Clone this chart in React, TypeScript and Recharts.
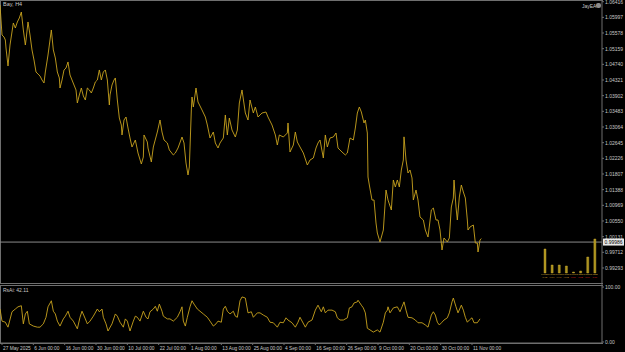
import React from "react";
import { LineChart, Line, XAxis, YAxis, ReferenceLine, BarChart, Bar, Cell } from "recharts";

// H4 bar number of each sampled close
const barIdx = [
  0, 3, 6, 8, 9, 12, 15, 20, 23, 26,
  29, 32, 35, 38, 39, 42, 45, 48, 51, 54,
  57, 60, 63, 66, 68, 72, 77, 80, 83, 86,
  89, 90, 93, 96, 99, 102, 105, 108, 111, 114,
  116, 119, 122, 125, 128, 131, 134, 137, 140, 143,
  146, 149, 152, 155, 158, 161, 164, 165, 168, 171,
  173, 176, 179, 182, 183, 186, 189, 192, 195, 198,
  203, 207, 212, 215, 216, 221, 222, 227, 230, 236,
  240, 243, 246, 251, 254, 260, 263, 267, 273, 276,
  279, 282, 284, 287, 288, 290, 294, 297, 303, 308,
  311, 315, 320, 323, 327, 330, 335, 338, 341, 344,
  348, 353, 356, 359, 363, 368, 372, 375, 380, 383,
  387, 393, 399, 402, 408, 413, 416, 419, 425, 431,
  432, 435, 440, 443, 446, 450, 455, 461, 465, 470,
  474, 477, 480, 485, 488, 491, 495, 500, 504, 507,
  513, 518, 521, 525, 530, 533, 536, 539, 542, 546,
  548, 551, 552, 554, 558, 561, 564, 566, 570, 575,
  576, 579, 582, 587, 590, 593, 596, 599, 602, 605,
  606, 609, 612, 615, 618, 620, 624, 627, 630, 635,
  638, 642, 647, 650, 654, 657, 660, 663, 666, 671,
  674, 677, 680, 681, 684, 686, 689, 692, 695, 698,
  701, 702, 705, 710, 713, 716, 717, 720, 722,
];

const closes = [
  1.06327, 1.05525, 1.05471, 1.05391, 1.05177, 1.04696, 1.05257, 1.05846, 1.05712, 1.05873,
  1.0598, 1.0614, 1.05659, 1.05257, 1.05391, 1.05873, 1.05525, 1.05124, 1.04856, 1.04535,
  1.04482, 1.04428, 1.04321, 1.04241, 1.04535, 1.0499, 1.05659, 1.05124, 1.0491, 1.04535,
  1.04375, 1.04107, 1.04321, 1.04589, 1.04642, 1.04803, 1.04455, 1.04321, 1.04187, 1.04054,
  1.03706, 1.0392, 1.04107, 1.03893, 1.03786, 1.04107, 1.04054, 1.03973, 1.04107, 1.04268,
  1.04321, 1.04589, 1.04321, 1.04535, 1.04589, 1.04321, 1.03652, 1.0392, 1.04187, 1.04321,
  1.04375, 1.03786, 1.03304, 1.03117, 1.0285, 1.03251, 1.03331, 1.03037, 1.0277, 1.02529,
  1.02716, 1.02368, 1.02074, 1.02261, 1.0285, 1.02663, 1.02502, 1.02128, 1.02529, 1.0293,
  1.03251, 1.0293, 1.02716, 1.02636, 1.02449, 1.02315, 1.02368, 1.02502, 1.02796, 1.02636,
  1.02101, 1.0178, 1.01994, 1.03519, 1.03866, 1.03599, 1.04107, 1.03733, 1.03519, 1.03331,
  1.03117, 1.0277, 1.0293, 1.02636, 1.02502, 1.02636, 1.0277, 1.03385, 1.0285, 1.03304,
  1.02983, 1.02796, 1.02983, 1.03706, 1.04054, 1.03438, 1.03251, 1.03786, 1.03438, 1.03599,
  1.03331, 1.03438, 1.03465, 1.03331, 1.03117, 1.0285, 1.02582, 1.0285, 1.02796, 1.02903,
  1.03171, 1.02395, 1.02582, 1.0293, 1.02663, 1.02529, 1.02368, 1.02047, 1.02181, 1.02235,
  1.02502, 1.02636, 1.02716, 1.02235, 1.0285, 1.02529, 1.0277, 1.02796, 1.02903, 1.02502,
  1.02395, 1.02315, 1.02368, 1.0277, 1.02716, 1.03037, 1.03438, 1.03599, 1.03465, 1.03171,
  1.03251, 1.02903, 1.01726, 1.01512, 1.01111, 1.01111, 1.00496, 1.00228, 0.99988, 1.00308,
  1.00576, 1.01378, 1.01111, 1.00844, 1.01646, 1.01459, 1.01646, 1.01459, 1.01914, 1.02181,
  1.028, 1.02181, 1.01833, 1.01914, 1.017, 1.01111, 1.01378, 1.01111, 1.00656, 1.00576,
  1.00308, 1.00121, 1.00844, 1.00897, 1.00576, 1.00576, 1.00308, 0.99774, 1.00095, 0.99988,
  1.00095, 1.00924, 1.01164, 1.01646, 1.00924, 1.00576, 1.01191, 1.01512, 1.01325, 1.01164,
  1.00576, 1.00308, 1.00389, 1.00442, 0.99961, 0.99961, 0.9972, 1.00041, 1.0008,
];

// oscillator sub-window
const oscBars = [
  0, 3, 8, 12, 18, 23, 27, 32, 35, 38,
  41, 44, 50, 56, 60, 65, 69, 72, 77, 80,
  83, 86, 90, 95, 98, 102, 105, 110, 116, 120,
  123, 128, 131, 135, 140, 146, 149, 153, 155, 159,
  162, 168, 173, 176, 180, 185, 188, 191, 195, 200,
  203, 206, 210, 215, 219, 222, 225, 230, 233, 236,
  239, 243, 245, 251, 255, 260, 266, 270, 273, 275,
  278, 281, 285, 288, 291, 296, 300, 305, 311, 315,
  320, 324, 327, 332, 335, 338, 341, 345, 350, 353,
  356, 360, 363, 368, 372, 377, 380, 386, 390, 395,
  401, 405, 410, 416, 420, 425, 429, 432, 438, 443,
  447, 450, 458, 462, 468, 473, 477, 482, 485, 488,
  492, 498, 503, 506, 510, 515, 521, 524, 528, 531,
  536, 537, 542, 545, 548, 551, 555, 560, 566, 570,
  575, 578, 581, 582, 585, 590, 596, 600, 603, 606,
  609, 612, 618, 623, 627, 633, 638, 642, 647, 650,
  653, 656, 659, 663, 666, 671, 674, 678, 680, 684,
  687, 692, 695, 698, 701, 704, 708, 711, 716, 720,
];

const oscValues = [
  60, 38, 36, 27, 55, 60, 64, 66, 33, 51,
  56, 33, 29, 27, 27, 33, 45, 64, 75, 56,
  51, 38, 29, 42, 47, 56, 45, 38, 24, 45,
  56, 42, 33, 38, 47, 60, 55, 60, 45, 33,
  20, 33, 51, 47, 36, 27, 42, 38, 20, 38,
  47, 45, 38, 56, 45, 42, 55, 60, 65, 56,
  69, 56, 47, 42, 42, 38, 45, 55, 64, 38,
  29, 45, 64, 75, 69, 60, 56, 51, 45, 38,
  29, 33, 38, 36, 60, 65, 56, 51, 56, 47,
  45, 75, 82, 80, 53, 55, 45, 53, 53, 49,
  45, 36, 35, 27, 36, 35, 44, 40, 35, 27,
  36, 45, 27, 36, 40, 58, 67, 55, 64, 53,
  58, 58, 55, 44, 40, 40, 44, 62, 64, 71,
  73, 76, 67, 62, 53, 25, 22, 18, 22, 18,
  36, 53, 58, 64, 53, 62, 64, 55, 64, 73,
  58, 45, 44, 40, 35, 35, 31, 27, 49, 55,
  49, 36, 31, 36, 40, 44, 53, 73, 80, 64,
  53, 67, 58, 45, 36, 40, 44, 35, 35, 42.11,
];

const priceTicks = [
  1.06416, 1.05997, 1.05578, 1.05159, 1.0474, 1.04321, 1.03902, 1.03483, 1.03064,
  1.02645, 1.02226, 1.01807, 1.01388, 1.00969, 1.0055, 1.00131, 0.99712, 0.99293,
];
const dateTicks = [3, 50, 97, 144, 191, 238, 285, 332, 379, 426, 473, 520, 567, 614, 661, 708];
const dateLabels = [
  "27 May 2025", "6 Jun 00:00", "16 Jun 00:00", "30 Jun 00:00", "10 Jul 00:00", "22 Jul 00:00",
  "1 Aug 00:00", "13 Aug 00:00", "25 Aug 00:00", "4 Sep 00:00", "16 Sep 00:00", "26 Sep 00:00",
  "9 Oct 00:00", "20 Oct 00:00", "30 Oct 00:00", "11 Nov 00:00",
];
const bidPrice = 0.99986;
const oscLast = 42.11;

// small level histogram in the corner
const levelNames = ["0.9950", "0.9960", "0.9970", "0.9980", "0.9990", "1.0000", "1.0010", "1.0020"];
const levelValues = [24, 8, 8, 7, 1, 2, 16, 34];
const levelNotes = ["+0.05", "+0.04", "+0.04", "+0.03", "-0.01", "-0.02", "-0.04", "-0.06"];

const priceData = barIdx.map((b, i) => ({ bar: b, close: closes[i] }));
const oscData = oscBars.map((b, i) => ({ bar: b, value: oscValues[i] }));
const levelData = levelNames.map((n, i) => ({ name: n, value: levelValues[i], note: levelNotes[i] }));

const FONT = "'Liberation Sans', Arial, sans-serif";
const GOLD = "#c9a41e";
const FRAME = "#6f6f6f";
const LABEL = "#c8c8c8";

const PriceTick = (props: any) => {
  const { x, y, payload } = props;
  return (
    <text x={x} y={y + 2.1} fill={LABEL} fontSize={5} fontFamily={FONT} textAnchor="start">
      {payload.value.toFixed(payload.value > 50 || payload.value === 0 ? 2 : 5)}
    </text>
  );
};

const DateTick = (props: any) => {
  const { x, y, payload } = props;
  const i = dateTicks.indexOf(payload.value);
  return (
    <text x={x + 1} y={y + 4.5} fill={LABEL} fontSize={4.8} fontFamily={FONT} textAnchor="start">
      {dateLabels[i]}
    </text>
  );
};

const BidLabel = (props: any) => {
  const vb = props.viewBox || {};
  const x = vb.x + vb.width + 1;
  return (
    <g>
      <rect x={x} y={vb.y - 3.5} width={21} height={7} fill="#e8e8e8" />
      <text x={x + 1.5} y={vb.y + 1.8} fill="#000" fontSize={5} fontFamily={FONT}>
        {bidPrice.toFixed(5)}
      </text>
    </g>
  );
};

const LevelTick = (props: any) => {
  const { x, y, index } = props;
  const d = levelData[index];
  return (
    <g>
      <text x={x} y={y + 1.8} fill="#e0c040" fontSize={2.2} fontFamily={FONT} textAnchor="middle">
        {d.name}
      </text>
      <text x={x} y={y + 4.6} fill={index < 4 ? "#d9a030" : "#e02020"} fontSize={2.2} fontFamily={FONT} textAnchor="middle">
        {d.note}
      </text>
    </g>
  );
};

export default function App() {
  return (
    <div
      style={{
        position: "absolute",
        left: 0,
        top: 0,
        width: 625,
        height: 352,
        background: "#000",
        overflow: "hidden",
        fontFamily: FONT,
      }}
    >
      {/* panel frames */}
      <div style={{ position: "absolute", left: 0, top: 0, width: 602, height: 282, border: `1px solid ${FRAME}`, borderRight: "none" }} />
      <div style={{ position: "absolute", left: 0, top: 285, width: 602, height: 57, border: `1px solid ${FRAME}`, borderRight: "none" }} />

      <div style={{ position: "absolute", left: 0, top: 0 }}>
        <LineChart width={625} height={283} data={priceData} margin={{ top: 0, right: 0, bottom: 0, left: 0 }}>
          <XAxis type="number" dataKey="bar" domain={[0, 903]} hide />
          <YAxis
            orientation="right"
            width={23}
            type="number"
            domain={[0.98891, 1.06461]}
            ticks={priceTicks}
            interval={0}
            allowDataOverflow
            tick={<PriceTick />}
            tickSize={2}
            tickMargin={1}
            tickLine={{ stroke: FRAME }}
            axisLine={{ stroke: FRAME }}
          />
          <ReferenceLine y={bidPrice} stroke="#8a8a8a" strokeWidth={1} label={<BidLabel />} />
          <Line
            type="linear"
            dataKey="close"
            stroke={GOLD}
            strokeWidth={0.9}
            dot={false}
            activeDot={false}
            isAnimationActive={false}
          />
        </LineChart>
      </div>

      <div style={{ position: "absolute", left: 0, top: 284 }}>
        <LineChart width={625} height={68} data={oscData} margin={{ top: 0, right: 0, bottom: 0, left: 0 }}>
          <XAxis
            type="number"
            dataKey="bar"
            domain={[0, 903]}
            ticks={dateTicks}
            interval={0}
            height={9}
            tick={<DateTick />}
            tickSize={2}
            tickMargin={0}
            tickLine={{ stroke: FRAME }}
            axisLine={{ stroke: FRAME }}
          />
          <YAxis
            orientation="right"
            width={23}
            type="number"
            domain={[-1.8, 105.5]}
            ticks={[0, 100]}
            interval={0}
            allowDataOverflow
            tick={<PriceTick />}
            tickSize={2}
            tickMargin={1}
            tickLine={{ stroke: FRAME }}
            axisLine={{ stroke: FRAME }}
          />
          <Line
            type="linear"
            dataKey="value"
            stroke={GOLD}
            strokeWidth={0.9}
            dot={false}
            activeDot={false}
            isAnimationActive={false}
          />
        </LineChart>
      </div>

      <div style={{ position: "absolute", left: 541, top: 236 }}>
        <BarChart width={57} height={45} data={levelData} margin={{ top: 0, right: 0, bottom: 0, left: 0 }}>
          <XAxis dataKey="name" height={8} tick={<LevelTick />} tickSize={0} tickMargin={0} tickLine={false} axisLine={false} interval={0} />
          <YAxis hide domain={[0, 37]} />
          <Bar dataKey="value" barSize={2} isAnimationActive={false}>
            {levelData.map((d) => (
              <Cell key={d.name} fill="#a8901e" stroke="#d8b832" strokeWidth={0.4} />
            ))}
          </Bar>
        </BarChart>
      </div>

      {/* window captions */}
      <div style={{ position: "absolute", left: 3, top: 1, fontSize: 5.5, color: LABEL, lineHeight: "7px" }}>Bay, H4</div>
      <div style={{ position: "absolute", left: 582, top: 3, fontSize: 5, color: LABEL, lineHeight: "6px" }}>JayEA</div>
      <div style={{ position: "absolute", left: 596, top: 3, width: 5, height: 5, borderRadius: 2, background: "#8c8c8c" }} />
      <div style={{ position: "absolute", left: 3, top: 287, fontSize: 5, color: LABEL, lineHeight: "6px" }}>
        RsAi: {oscLast.toFixed(2)}
      </div>
    </div>
  );
}
